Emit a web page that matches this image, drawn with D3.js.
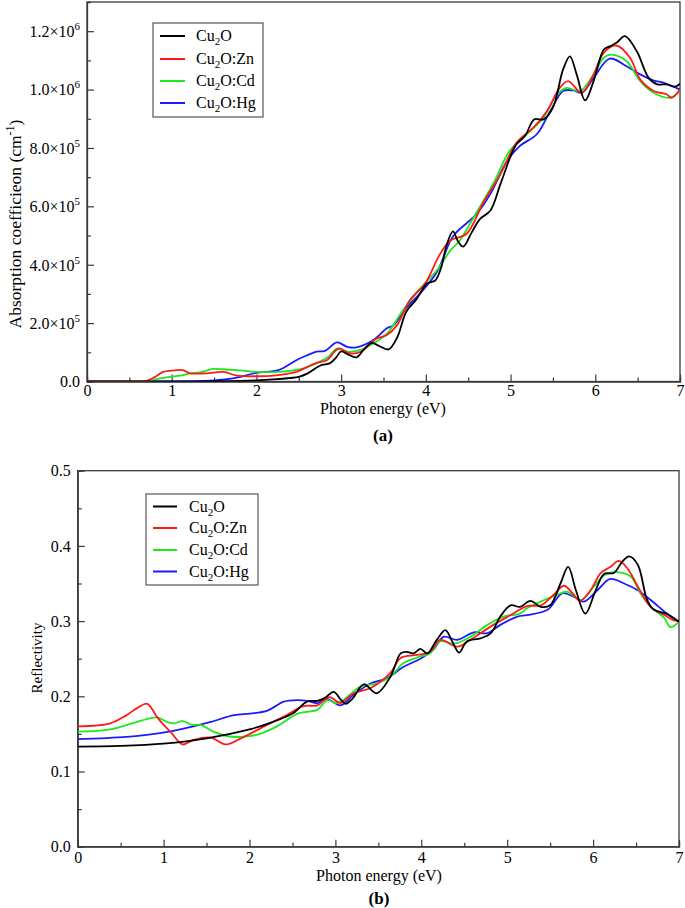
<!DOCTYPE html>
<html><head><meta charset="utf-8">
<script src="https://cdn.jsdelivr.net/npm/d3@7"></script>
<style>
body{margin:0;background:#fff}
svg{display:block}
text{font-family:"Liberation Serif","Times New Roman",serif;fill:#000}
</style>
</head><body>
<svg id="c" width="685" height="908"></svg>
<script>
// ---------- data ----------
const energyTicks = [0,1,2,3,4,5,6,7];
const seriesSuffix = ["", ":Zn", ":Cd", ":Hg"];      // Cu2O, Cu2O:Zn, Cu2O:Cd, Cu2O:Hg
const seriesColors = ["#000000", "#ff1a1a", "#1ee81e", "#1a1aff"];

const absTicks = [0, 2e5, 4e5, 6e5, 8e5, 1e6, 1.2e6];
const absTickMantissa = ["0.0","2.0","4.0","6.0","8.0","1.0","1.2"];
const absTickExponent = ["","5","5","5","5","6","6"];
const absUnit = 1e5; // values below are in units of 1e5 cm^-1

const reflTicks = [0, 0.1, 0.2, 0.3, 0.4, 0.5];
const reflTickLabels = ["0.0","0.1","0.2","0.3","0.4","0.5"];

// absorption coefficient (x 1e5 cm^-1) vs photon energy (eV)
const absCu2O = [[0,0],[0.5,0],[1,0],[1.5,0.01],[2,0.04],[2.2,0.07],[2.4,0.12],[2.5,0.16],[2.6,0.27],[2.75,0.54],[2.87,0.63],[2.94,0.82],[3.0,1.03],[3.08,0.93],[3.18,0.83],[3.27,1.1],[3.36,1.32],[3.46,1.2],[3.56,1.1],[3.66,1.5],[3.77,2.4],[3.89,2.82],[4.01,3.35],[4.11,3.46],[4.18,3.9],[4.25,4.72],[4.32,5.14],[4.38,4.8],[4.44,4.62],[4.54,5.1],[4.64,5.57],[4.76,5.85],[4.88,6.76],[5.01,7.79],[5.07,8.13],[5.17,8.41],[5.28,8.98],[5.39,8.98],[5.5,9.38],[5.62,10.69],[5.70,11.14],[5.78,10.52],[5.88,9.63],[5.98,10.29],[6.10,11.37],[6.17,11.48],[6.25,11.6],[6.35,11.83],[6.49,11.31],[6.63,10.4],[6.73,10.18],[6.84,10.18],[6.94,10.1],[7,10.2]];
const absZn = [[0,0],[0.5,0],[0.7,0.02],[0.8,0.15],[0.9,0.33],[1.0,0.37],[1.13,0.39],[1.22,0.28],[1.41,0.28],[1.61,0.33],[1.77,0.2],[2.0,0.18],[2.2,0.2],[2.47,0.33],[2.6,0.5],[2.71,0.64],[2.83,0.73],[2.97,1.13],[3.11,0.96],[3.23,1.02],[3.42,1.47],[3.54,1.59],[3.66,1.93],[3.81,2.78],[3.99,3.35],[4.17,4.38],[4.29,4.83],[4.48,5.06],[4.68,6.14],[4.88,7.1],[5.07,8.18],[5.27,8.7],[5.43,9.27],[5.58,10.06],[5.68,10.29],[5.84,9.89],[5.98,10.52],[6.1,11.26],[6.25,11.51],[6.41,11.09],[6.53,10.35],[6.69,9.95],[6.84,9.84],[6.9,9.72],[7,10.0]];
const absCd = [[0,0],[0.6,0],[0.74,0.02],[0.85,0.1],[0.98,0.16],[1.1,0.2],[1.22,0.28],[1.33,0.31],[1.49,0.43],[1.6,0.42],[1.77,0.39],[2.0,0.33],[2.26,0.33],[2.56,0.45],[2.75,0.68],[2.85,0.85],[2.95,1.13],[3.07,1.02],[3.23,1.08],[3.38,1.3],[3.54,1.64],[3.73,2.44],[3.93,3.18],[4.13,3.81],[4.29,4.49],[4.4,4.83],[4.6,5.8],[4.8,6.8],[4.99,7.9],[5.19,8.47],[5.39,9.04],[5.55,9.84],[5.66,10.06],[5.82,9.95],[5.98,10.52],[6.1,11.09],[6.19,11.2],[6.37,10.97],[6.53,10.29],[6.69,9.89],[6.88,9.72],[7,9.95]];
const absHg = [[0,0],[1.0,0],[1.4,0.02],[1.6,0.06],[1.8,0.15],[2.0,0.3],[2.26,0.39],[2.47,0.73],[2.6,0.9],[2.71,1.02],[2.81,1.05],[2.95,1.34],[3.07,1.19],[3.18,1.17],[3.38,1.42],[3.54,1.82],[3.62,1.93],[3.77,2.53],[3.93,3.01],[4.13,3.75],[4.29,4.83],[4.36,5.11],[4.6,5.74],[4.76,6.42],[4.96,7.56],[5.11,8.07],[5.31,8.47],[5.47,9.27],[5.62,9.95],[5.74,9.97],[5.84,9.89],[5.98,10.4],[6.17,11.06],[6.37,10.8],[6.53,10.52],[6.69,10.31],[6.81,10.23],[7,10.0]];

// reflectivity vs photon energy (eV)
const refCu2O = [[0,0.133],[0.5,0.134],[1.0,0.137],[1.5,0.144],[2.0,0.156],[2.2,0.163],[2.5,0.177],[2.67,0.193],[2.79,0.194],[2.88,0.198],[2.98,0.206],[3.06,0.196],[3.12,0.19],[3.2,0.197],[3.33,0.216],[3.48,0.204],[3.64,0.226],[3.76,0.257],[3.83,0.259],[3.91,0.257],[3.99,0.263],[4.07,0.257],[4.18,0.275],[4.28,0.288],[4.36,0.273],[4.44,0.258],[4.53,0.273],[4.69,0.277],[4.81,0.284],[4.92,0.306],[5.04,0.321],[5.15,0.319],[5.27,0.327],[5.39,0.319],[5.5,0.321],[5.62,0.35],[5.71,0.372],[5.8,0.341],[5.91,0.31],[6.03,0.341],[6.13,0.363],[6.24,0.364],[6.34,0.379],[6.42,0.386],[6.52,0.375],[6.63,0.328],[6.71,0.315],[6.85,0.31],[7,0.299]];
const refZn = [[0,0.16],[0.38,0.164],[0.57,0.175],[0.7,0.185],[0.81,0.19],[0.92,0.173],[1.0,0.162],[1.08,0.153],[1.22,0.136],[1.35,0.142],[1.55,0.145],[1.72,0.136],[1.9,0.144],[2.17,0.16],[2.4,0.173],[2.63,0.187],[2.79,0.188],[2.93,0.199],[3.06,0.191],[3.21,0.204],[3.41,0.211],[3.64,0.231],[3.76,0.251],[3.95,0.255],[4.1,0.259],[4.22,0.275],[4.42,0.266],[4.57,0.275],[4.81,0.293],[5.04,0.308],[5.23,0.32],[5.39,0.321],[5.54,0.335],[5.66,0.347],[5.76,0.337],[5.85,0.327],[5.97,0.341],[6.09,0.364],[6.2,0.372],[6.3,0.38],[6.4,0.37],[6.52,0.346],[6.67,0.319],[6.83,0.308],[6.94,0.301],[7,0.301]];
const refCd = [[0,0.153],[0.38,0.156],[0.69,0.166],[0.92,0.172],[1.04,0.166],[1.12,0.164],[1.22,0.167],[1.33,0.162],[1.43,0.162],[1.58,0.153],[1.74,0.147],[1.9,0.146],[2.09,0.149],[2.32,0.16],[2.56,0.177],[2.71,0.18],[2.79,0.182],[2.91,0.195],[3.0,0.191],[3.08,0.194],[3.2,0.205],[3.29,0.213],[3.48,0.217],[3.64,0.226],[3.79,0.244],[3.99,0.253],[4.1,0.257],[4.22,0.273],[4.38,0.27],[4.57,0.279],[4.77,0.295],[4.96,0.306],[5.15,0.31],[5.23,0.317],[5.43,0.328],[5.58,0.335],[5.7,0.339],[5.86,0.328],[6.01,0.346],[6.13,0.361],[6.28,0.365],[6.44,0.359],[6.55,0.337],[6.67,0.319],[6.83,0.304],[6.9,0.292],[7,0.299]];
const refHg = [[0,0.143],[0.57,0.146],[0.96,0.151],[1.27,0.158],[1.55,0.166],[1.82,0.175],[2.01,0.177],[2.21,0.181],[2.4,0.193],[2.56,0.195],[2.67,0.194],[2.79,0.191],[2.89,0.197],[3.06,0.188],[3.21,0.202],[3.41,0.217],[3.6,0.224],[3.79,0.239],[3.99,0.25],[4.14,0.262],[4.26,0.279],[4.42,0.275],[4.61,0.285],[4.77,0.284],[4.92,0.295],[5.12,0.306],[5.23,0.308],[5.47,0.315],[5.64,0.337],[5.78,0.332],[5.89,0.326],[6.05,0.341],[6.2,0.356],[6.36,0.35],[6.52,0.341],[6.67,0.328],[6.86,0.31],[7,0.299]];

// ---------- drawing ----------
const svg = d3.select("#c");
const FRAME = "#3a3a3a";

function legend(g, x0, y0, w, h, rowY, lineX, textX){
  g.append("rect").attr("x",x0).attr("y",y0).attr("width",w).attr("height",h)
    .attr("fill","#fff").attr("stroke","#555").attr("stroke-width",1.2);
  seriesSuffix.forEach((s,i)=>{
    const y = rowY[i];
    g.append("line").attr("x1",lineX[0]).attr("x2",lineX[1]).attr("y1",y).attr("y2",y)
      .attr("stroke",seriesColors[i]).attr("stroke-width",2);
    const t = g.append("text").attr("x",textX).attr("y",y+5).attr("font-size",16);
    t.append("tspan").text("Cu");
    t.append("tspan").attr("font-size",11).attr("dy",4).text("2");
    t.append("tspan").attr("dy",-4).text("O"+s);
  });
}

function panel(opt){
  const x = d3.scaleLinear().domain([0,7]).range([opt.left, opt.right]);
  const y = d3.scaleLinear().domain(opt.ydomain).range([opt.bottom, opt.top]);
  const g = svg.append("g");
  const clipId = "clip"+opt.id;
  g.append("clipPath").attr("id",clipId).append("rect")
    .attr("x",opt.left).attr("y",opt.top).attr("width",opt.right-opt.left).attr("height",opt.bottom-opt.top);

  // x axis (ticks inward)
  const xa = g.append("g").attr("transform",`translate(0,${opt.bottom})`)
    .call(d3.axisBottom(x).tickValues(d3.range(0,7.01,0.5)).tickSize(-4).tickFormat(""));
  xa.selectAll(".tick line").attr("y2", d=> Number.isInteger(d)? -7 : -4);
  const xl = g.append("g").attr("transform",`translate(0,${opt.bottom})`)
    .call(d3.axisBottom(x).tickValues(energyTicks).tickSize(0).tickPadding(opt.xPad).tickFormat(d3.format("d")));
  xl.select(".domain").remove();
  xl.selectAll("text").attr("font-size",16).attr("font-family","Liberation Serif");

  // y axis
  const ya = g.append("g").attr("transform",`translate(${opt.left},0)`)
    .call(d3.axisLeft(y).tickValues(opt.minorTicks).tickSize(-4).tickFormat(""));
  ya.selectAll(".tick line").attr("x2", (d,i)=> (i%2===0)? 7 : 4);
  const yl = g.append("g").attr("transform",`translate(${opt.left},0)`)
    .call(d3.axisLeft(y).tickValues(opt.majorTicks).tickSize(0).tickPadding(7).tickFormat(""));
  yl.select(".domain").remove();
  yl.selectAll(".tick").each(function(d,i){
    const t = d3.select(this).append("text").attr("x",-7).attr("dy","0.33em")
      .attr("text-anchor","end").attr("font-size",16).attr("fill","#000")
      .attr("font-family","Liberation Serif");
    opt.labelFn(t, i);
  });

  [xa,ya].forEach(a=>{a.select(".domain").attr("stroke",FRAME).attr("stroke-width",1.3);
    a.selectAll(".tick line").attr("stroke",FRAME).attr("stroke-width",1.2);});

  // frame
  g.append("rect").attr("x",opt.left).attr("y",opt.top).attr("width",opt.right-opt.left)
    .attr("height",opt.bottom-opt.top).attr("fill","none").attr("stroke",FRAME).attr("stroke-width",1.3);

  // curves
  const line = d3.line().x(d=>x(d[0])).y(d=>y(d[1]*opt.unit)).curve(d3.curveCatmullRom.alpha(0.5));
  const cg = g.append("g").attr("clip-path",`url(#${clipId})`);
  [3,2,1,0].forEach(i=>{
    cg.append("path").datum(opt.series[i]).attr("d",line).attr("fill","none")
      .attr("stroke",seriesColors[i]).attr("stroke-width",1.8).attr("stroke-linejoin","round");
  });
  return {x,y,g};
}

// panel (a)
const A = panel({id:"a", left:87, right:680, top:2, bottom:381.5, ydomain:[0,1.3e6], xPad:3,
  majorTicks:absTicks, minorTicks:d3.range(0,1.25e6,1e5), unit:absUnit,
  series:[absCu2O,absZn,absCd,absHg],
  labelFn:(t,i)=>{ t.append("tspan").text(absTickMantissa[i]==="0.0" ? "0.0" : absTickMantissa[i]+"×10");
    if(absTickExponent[i]) t.append("tspan").attr("font-size",11).attr("dy",-7).text(absTickExponent[i]); }
});
legend(A.g, 153, 23, 110, 94, [36,59,81,103], [160,185], 196);
svg.append("text").attr("x",383).attr("y",414).attr("text-anchor","middle").attr("font-size",16).text("Photon energy (eV)");
svg.append("text").attr("x",383).attr("y",441).attr("text-anchor","middle").attr("font-size",17).attr("font-weight","bold").text("(a)");
{
  const t = svg.append("text").attr("transform","translate(21,224) rotate(-90)").attr("text-anchor","middle").attr("font-size",17.5);
  t.append("tspan").text("Absorption coefficieon (cm");
  t.append("tspan").attr("font-size",12).attr("dy",-7).text("-1");
  t.append("tspan").attr("dy",7).text(")");
}

// panel (b)
const B = panel({id:"b", left:77.7, right:679, top:470.7, bottom:846.7, ydomain:[0,0.5], xPad:5,
  majorTicks:reflTicks, minorTicks:d3.range(0,0.501,0.05), unit:1,
  series:[refCu2O,refZn,refCd,refHg],
  labelFn:(t,i)=>{ t.text(reflTickLabels[i]); }
});
legend(B.g, 146, 494, 112, 91, [506.5,528,550,571.5], [153,177], 189);
svg.append("text").attr("x",379).attr("y",881).attr("text-anchor","middle").attr("font-size",16).text("Photon energy (eV)");
svg.append("text").attr("x",379).attr("y",904).attr("text-anchor","middle").attr("font-size",17).attr("font-weight","bold").text("(b)");
svg.append("text").attr("transform","translate(42,658) rotate(-90)").attr("text-anchor","middle").attr("font-size",15).text("Reflectivity");
</script>
</body></html>
